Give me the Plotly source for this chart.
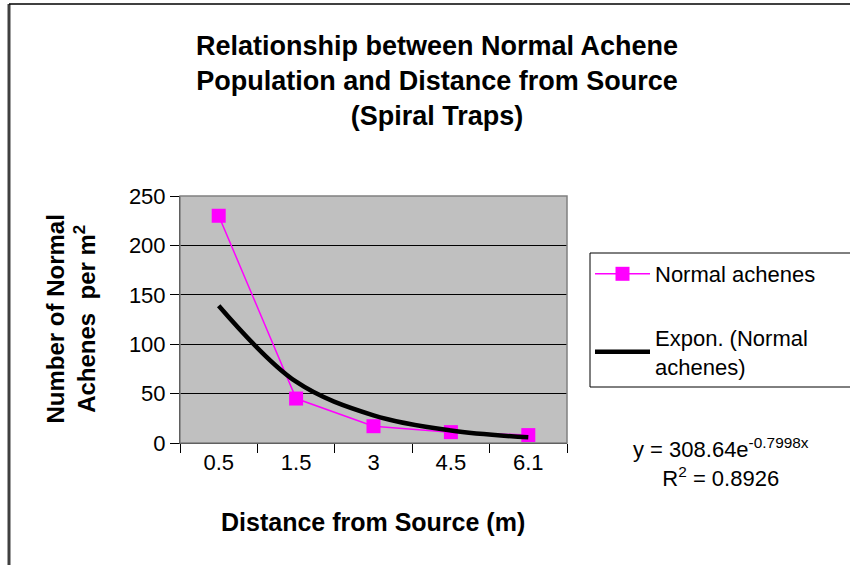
import plotly.graph_objects as go

categories = ["0.5", "1.5", "3", "4.5", "6.1"]
normal_achenes = [230, 45, 17, 11, 8]
trend_values = [139, 62, 28, 12.6, 5.7]
y_ticks = [0, 50, 100, 150, 200, 250]

FONT = "Liberation Sans, Arial, sans-serif"
TICK_SIZE = 22

fig = go.Figure()
fig.add_trace(go.Scatter(
    x=categories, y=normal_achenes, name="Normal achenes",
    mode="lines+markers", legendgroup="a",
    line=dict(color="#FF00FF", width=1.5),
    marker=dict(symbol="square", size=14, color="#FF00FF"),
))
fig.add_trace(go.Scatter(
    x=categories, y=trend_values, name="Expon. (Normal<br>achenes)",
    mode="lines", legendgroup="b",
    line=dict(color="black", width=4.5, shape="spline", smoothing=1.0),
))

fig.update_layout(
    width=850, height=565,
    margin=dict(l=180, r=283, t=196, b=122, autoexpand=False),
    paper_bgcolor="white", plot_bgcolor="#C0C0C0",
    font=dict(family=FONT, size=TICK_SIZE, color="black"),
    showlegend=True,
    title=dict(
        text="<b>Relationship between Normal Achene<br>Population and Distance from Source<br>(Spiral Traps)</b>",
        x=437 / 850, xanchor="center", xref="container",
        y=1 - 55 / 565, yanchor="top", yref="container",
        font=dict(family=FONT, size=27),
    ),
    legend=dict(
        x=(590 - 180) / 387, xanchor="left", y=(443 - 253) / 247, yanchor="top",
        borderwidth=0, bgcolor="rgba(0,0,0,0)",
        font=dict(family=FONT, size=TICK_SIZE),
        traceorder="grouped", tracegroupgap=32, itemwidth=55,
    ),
    xaxis=dict(
        type="category", tickson="boundaries", automargin=False,
        showgrid=False, showline=True, linecolor="black", linewidth=1,
        ticks="outside", ticklen=9, tickcolor="black",
        tickfont=dict(size=TICK_SIZE),
        range=[-0.5, 4.5],
    ),
    yaxis=dict(
        range=[0, 250], tickvals=y_ticks, automargin=False,
        showgrid=True, gridcolor="black", gridwidth=1,
        showline=True, linecolor="black", linewidth=1,
        ticks="outside", ticklen=9, tickcolor="black",
        tickfont=dict(size=TICK_SIZE),
        zeroline=False,
    ),
)

# plot area border
fig.add_shape(type="rect", xref="paper", yref="paper", x0=0, y0=0, x1=1, y1=1,
              line=dict(color="#808080", width=1.5), layer="above")
# legend box (extends past the right edge, as in the reference)
fig.add_shape(type="rect", xref="paper", yref="paper",
              x0=(590 - 180) / 387, x1=(880 - 180) / 387,
              y0=(443 - 387) / 247, y1=(443 - 253) / 247,
              line=dict(color="black", width=1), fillcolor="white", layer="below")
# outer chart border (left and top edges visible)
fig.add_shape(type="line", xref="paper", yref="paper",
              x0=(9 - 180) / 387, x1=(9 - 180) / 387, y0=-0.6, y1=1 + (196 - 4) / 247,
              line=dict(color="#404040", width=3))
fig.add_shape(type="line", xref="paper", yref="paper",
              x0=(9 - 180) / 387, x1=1.8, y0=1 + (196 - 4) / 247, y1=1 + (196 - 4) / 247,
              line=dict(color="black", width=1.5))

# axis titles
fig.add_annotation(
    xref="paper", yref="paper", x=(70 - 180) / 387, y=0.5, xanchor="center", yanchor="middle",
    textangle=-90, showarrow=False,
    text="<b>Number of Normal<br>Achenes  per m<sup>2</sup></b>",
    font=dict(family=FONT, size=24),
)
fig.add_annotation(
    xref="paper", yref="paper", x=(373 - 180) / 387, y=(443 - 522) / 247,
    xanchor="center", yanchor="middle", showarrow=False,
    text="<b>Distance from Source (m)</b>",
    font=dict(family=FONT, size=25),
)

# trendline equation
fig.add_annotation(
    xref="paper", yref="paper", x=(721 - 180) / 387, y=(443 - 462) / 247,
    xanchor="center", yanchor="middle",
    text="y = 308.64e<sup>-0.7998x</sup><br>R<sup>2</sup> = 0.8926",
    showarrow=False, font=dict(family=FONT, size=22), align="center",
)

fig.write_html("out.html", post_script="document.body.style.margin='0';",
               config={"displayModeBar": False})
